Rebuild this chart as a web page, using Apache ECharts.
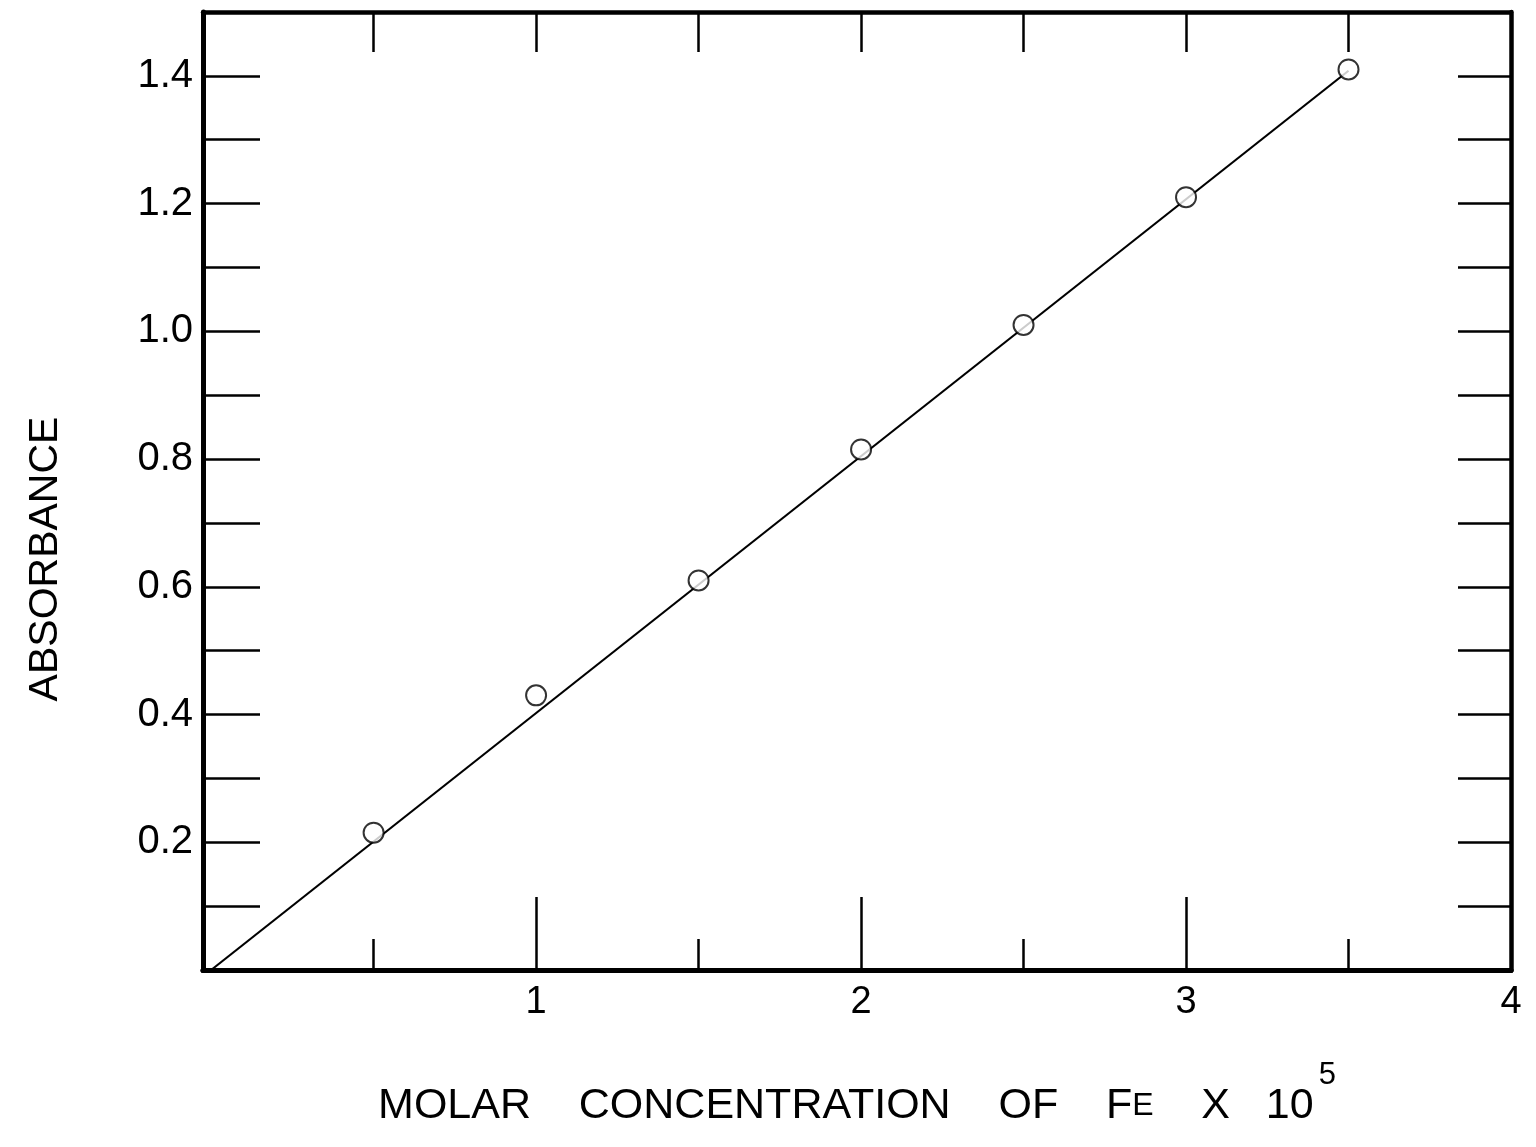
<!DOCTYPE html>
<html>
<head>
<meta charset="utf-8">
<script src="https://cdn.jsdelivr.net/npm/echarts@6/dist/echarts.min.js"></script>
<style>
html,body{margin:0;padding:0;background:#fff;}
#chart{width:1536px;height:1147px;}
</style>
</head>
<body>
<div id="chart"></div>
<script>
// ---- data ----
const concentration = [0.5, 1.0, 1.5, 2.0, 2.5, 3.0, 3.5];
const absorbance = [0.215, 0.43, 0.61, 0.815, 1.01, 1.21, 1.41];
const fitX = [0, 3.5];
const fitY = [0, 1.408];
const xLabelValues = [1, 2, 3, 4];
const xMajorTicks = [1, 2, 3];
const xHalfTicks = [0.5, 1.5, 2.5, 3.5];
const xTopTicks = [0.5, 1.0, 1.5, 2.0, 2.5, 3.0, 3.5];
const yLabelValues = [0.2, 0.4, 0.6, 0.8, 1.0, 1.2, 1.4];
const yTicks = [0.1, 0.2, 0.3, 0.4, 0.5, 0.6, 0.7, 0.8, 0.9, 1.0, 1.1, 1.2, 1.3, 1.4];
const xTitle = 'MOLAR    CONCENTRATION    OF    F{s|E}    X   10{sup|5}';
const yTitle = 'ABSORBANCE';

const X_MIN = -0.025, X_MAX = 4, Y_MIN = 0, Y_MAX = 1.5;
const INK = '#000';
const FONT = '"Liberation Sans", Arial, sans-serif';

const chart = echarts.init(document.getElementById('chart'), null, {renderer: 'canvas'});

function xAxisBase(extra) {
  return Object.assign({
    type: 'value', min: X_MIN, max: X_MAX, position: 'bottom',
    splitLine: {show: false},
    axisLine: {show: true, onZero: false, lineStyle: {color: INK, width: 5}},
    axisLabel: {show: false},
    axisTick: {show: false}
  }, extra);
}
function yAxisBase(extra) {
  return Object.assign({
    type: 'value', min: Y_MIN, max: Y_MAX, position: 'left',
    splitLine: {show: false},
    axisLine: {show: true, onZero: false, lineStyle: {color: INK, width: 5}},
    axisLabel: {show: false},
    axisTick: {show: false}
  }, extra);
}

const option = {
  backgroundColor: '#fff',
  animation: false,
  grid: {left: 203, right: 25, top: 12, bottom: 177, containLabel: false},
  graphic: [{
    type: 'text', x: 46, y: 559, rotation: Math.PI / 2,
    style: {text: yTitle, fill: INK, font: 'normal 41px ' + FONT, align: 'center', verticalAlign: 'middle'}
  }],
  xAxis: [
    xAxisBase({
      name: xTitle,
      nameLocation: 'middle',
      nameGap: 90,
      nameTextStyle: {
        fontFamily: FONT, fontSize: 43, color: INK,
        rich: {
          s: {fontFamily: FONT, fontSize: 32, color: INK},
          sup: {fontFamily: FONT, fontSize: 31, color: INK, padding: [0, 0, 62, 5]}
        }
      },
      axisLabel: {show: true, customValues: xLabelValues, color: INK, fontSize: 38, fontFamily: FONT, margin: 14,
        formatter: v => String(Math.round(v))},
      axisTick: {show: true, inside: true, length: 73, customValues: xMajorTicks, lineStyle: {color: INK, width: 2.5}}
    }),
    xAxisBase({
      axisTick: {show: true, inside: true, length: 31, customValues: xHalfTicks, lineStyle: {color: INK, width: 2.5}}
    }),
    xAxisBase({
      position: 'top', axisLine: {show: true, onZero: false, lineStyle: {color: INK, width: 4.5}},
      axisTick: {show: true, inside: true, length: 40, customValues: xTopTicks, lineStyle: {color: INK, width: 2.5}}
    })
  ],
  yAxis: [
    yAxisBase({
      axisLabel: {show: true, customValues: yLabelValues, color: INK, fontSize: 40, fontFamily: FONT, margin: 10,
        formatter: v => v.toFixed(1)},
      axisTick: {show: true, inside: true, length: 57, customValues: yTicks, lineStyle: {color: INK, width: 2.5}}
    }),
    yAxisBase({
      position: 'right', axisLine: {show: true, onZero: false, lineStyle: {color: INK, width: 4.5}},
      axisTick: {show: true, inside: true, length: 53, customValues: yTicks, lineStyle: {color: INK, width: 2.5}}
    })
  ],
  series: [
    {
      type: 'line', xAxisIndex: 0, yAxisIndex: 0,
      data: fitX.map((x, i) => [x, fitY[i]]),
      showSymbol: false, symbol: 'none',
      lineStyle: {color: INK, width: 2.2},
      z: 2
    },
    {
      type: 'scatter', xAxisIndex: 0, yAxisIndex: 0,
      data: concentration.map((x, i) => [x, absorbance[i]]),
      symbol: 'circle', symbolSize: 20,
      itemStyle: {color: '#fff', borderColor: INK, borderWidth: 2},
      z: 3
    }
  ]
};
chart.setOption(option);
</script>
</body>
</html>
